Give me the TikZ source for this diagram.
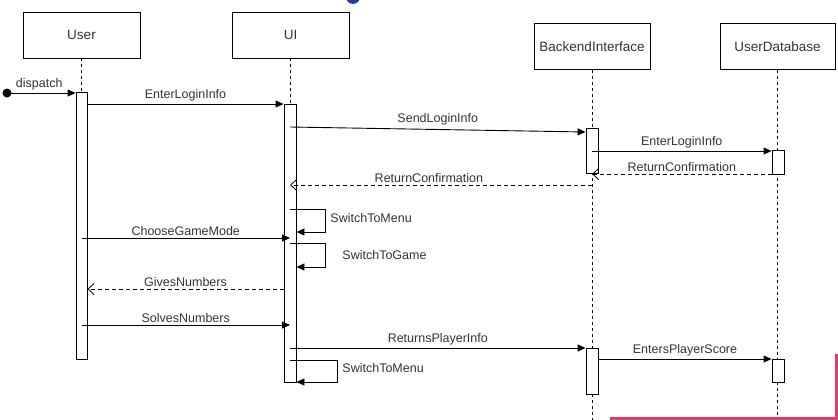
\documentclass[tikz,border=0pt]{standalone}
\usepackage{fontspec}
\setmainfont{Liberation Sans}
\usetikzlibrary{arrows.meta,positioning,calc}
\definecolor{overlayblue}{RGB}{40,60,150}
\definecolor{overlaypink}{RGB}{214,64,112}

\begin{document}
\begin{tikzpicture}[x=1pt, y=-1pt, line width=0.9pt,
    head/.style={draw, minimum height=46pt, inner sep=0pt, font=\fontsize{13.5}{16}\selectfont, text=black!80},
    act/.style={draw, fill=white, minimum width=12pt, inner sep=0pt},
    life/.style={dash pattern=on 3pt off 3pt},
    msg/.style={-{Triangle[length=8pt,width=7pt]}},
    ret/.style={dash pattern=on 4pt off 3pt, -{Straight Barb[length=6pt,width=11pt,line width=0.8pt]}},
    lbl/.style={font=\fontsize{12.5}{15}\selectfont, text=black!80, inner sep=1pt}]
    \useasboundingbox (0,0) rectangle (838,420);

    % Lifeline heads
    \node[head, minimum width=117pt] (hUser) at (81.5,35) {User};
    \node[head, minimum width=117pt] (hUI) at (290.5,35) {UI};
    \node[head, minimum width=116pt] (hBack) at (592,46.5) {BackendInterface};
    \node[head, minimum width=115pt] (hDB) at (777.5,46.5) {UserDatabase};

    % Lifelines
    \draw[life] (hUser.south) -- (hUser.south |- 0,359);
    \draw[life] (hUI.south) -- (hUI.south |- 0,382);
    \draw[life] (hBack.south) -- (hBack.south |- 0,420);
    \draw[life] (hDB.south) -- (hDB.south |- 0,420);

    % Activation bars
    \node[act, minimum width=11pt, minimum height=267pt, anchor=north] (actUser) at (81.5,92) {};
    \node[act, minimum height=278pt, anchor=north] (actUI) at (290,104) {};
    \node[act, minimum height=45pt, anchor=north] (actBack1) at (592,128) {};
    \node[act, minimum height=24pt, anchor=north] (actDB1) at (778,150) {};
    \node[act, minimum height=46pt, anchor=north] (actBack2) at (592,348) {};
    \node[act, minimum height=23pt, anchor=north] (actDB2) at (778,359) {};

    % Login
    \coordinate (start) at (7,93);
    \fill (start) circle (4.5pt);
    \draw[msg] (start) -- (actUser.west |- start)
        node[lbl, midway, above=1pt, xshift=-2pt] {dispatch};
    \draw[msg] (actUser.east |- 0,104) -- (actUI.west |- 0,104)
        node[lbl, midway, above=1pt] {EnterLoginInfo};
    \draw[msg] (actUI.center |- 0,127) -- (actBack1.west |- 0,132)
        node[lbl, midway, above=3pt] {SendLoginInfo};
    \draw[msg] (actBack1.center |- 0,151) -- (actDB1.west |- 0,151)
        node[lbl, midway, above=1pt] {EnterLoginInfo};
    \draw[ret] (actDB1.west |- 0,174) -- (actBack1.center |- 0,174)
        node[lbl, midway, above=1pt] {ReturnConfirmation};
    \draw[ret] (actBack1.center |- 0,185) -- (actUI.center |- 0,185)
        node[lbl, pos=0.54, above=1pt] {ReturnConfirmation};

    % Game
    \draw[msg] (actUI.center |- 0,209) -| (325,232) -- (actUI.east |- 0,232);
    \node[lbl, anchor=west] (swMenu1) at (329,218) {SwitchToMenu};
    \draw[msg] (actUser.center |- 0,238) -- (actUI.center |- 0,238)
        node[lbl, midway, above=1pt] {ChooseGameMode};
    \draw[msg] (actUI.center |- 0,243) -| (325,267) -- (actUI.east |- 0,267);
    \node[lbl, anchor=west] (swGame) at (341,255) {SwitchToGame};
    \draw[ret] (actUI.west |- 0,289) -- (actUser.east |- 0,289)
        node[lbl, midway, above=1pt] {GivesNumbers};
    \draw[msg] (actUser.center |- 0,325) -- (actUI.center |- 0,325)
        node[lbl, midway, above=1pt] {SolvesNumbers};

    % Score
    \draw[msg] (actUI.center |- 0,348) -- (actBack2.west |- 0,348)
        node[lbl, midway, above=1pt] {ReturnsPlayerInfo};
    \draw[msg] (actUI.center |- 0,360) -| (337,382) -- (actUI.east |- 0,382);
    \node[lbl, anchor=west] (swMenu2) at (341,368) {SwitchToMenu};
    \draw[msg] (actBack2.east |- 0,359) -- (actDB2.west |- 0,359)
        node[lbl, midway, above=1pt] {EntersPlayerScore};

    % Screen overlay bits
    \fill[overlayblue] (353,-3) circle (7pt);
    \draw[overlaypink, line width=2.5pt] (610,418.5) -| (836.5,354);
\end{tikzpicture}
\end{document}
